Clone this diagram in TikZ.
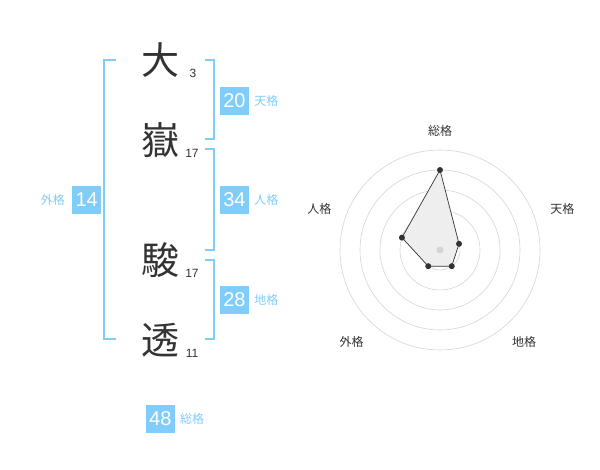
\documentclass[tikz,border=0pt]{standalone}
\usepackage{fontspec}
\setmainfont{Liberation Sans}
\newfontfamily\jpfont{Noto Sans CJK JP}
\usetikzlibrary{positioning}
\definecolor{kakublue}{RGB}{128,204,250}
\definecolor{inkgray}{RGB}{51,51,51}
\definecolor{gridgray}{RGB}{212,212,212}
\definecolor{areagray}{RGB}{238,238,238}
\tikzset{
  moji/.style={font=\jpfont\fontsize{38}{38}\selectfont,text=inkgray,inner sep=0pt},
  kakusu/.style={font=\fontsize{12}{12}\selectfont,text=inkgray,inner sep=0pt},
  kakubox/.style={rectangle,fill=kakublue,text=white,minimum width=29pt,minimum height=28pt,inner sep=0pt,font=\fontsize{20}{20}\selectfont},
  kakuname/.style={font=\jpfont\fontsize{12}{12}\selectfont,text=kakublue,inner sep=0pt},
  bracket/.style={draw=kakublue,line width=2pt},
  axisname/.style={font=\jpfont\fontsize{12}{12}\selectfont,text=inkgray,inner sep=0pt},
  ring/.style={draw=gridgray,line width=0.6pt},
  valdot/.style={circle,fill=inkgray,inner sep=0pt,minimum size=6pt}
}
\begin{document}
\begin{tikzpicture}[x=1pt,y=-1pt]
  \useasboundingbox (0,0) rectangle (600,470);
  % name
  \node[moji] (moji1) at (160,60) {大};
  \node[moji] (moji2) at (160,140) {嶽};
  \node[moji] (moji3) at (160,260) {駿};
  \node[moji] (moji4) at (160,340) {透};
  \node[kakusu] (su1) at (193,73) {3};
  \node[kakusu] (su2) at (192,153) {17};
  \node[kakusu] (su3) at (192,273) {17};
  \node[kakusu] (su4) at (192,353) {11};
  % brackets
  \draw[bracket] (116,60) -| (104,339) -- (116,339);
  \draw[bracket] (205,60) -| (214,139) -- (205,139);
  \draw[bracket] (205,149) -| (214,250) -- (205,250);
  \draw[bracket] (205,260) -| (214,339) -- (205,339);
  % scores
  \node[kakubox] (tenkaku) at (234.5,101) {20};
  \node[kakuname,right=5pt of tenkaku] (tenname) {天格};
  \node[kakubox] (jinkaku) at (234.5,200) {34};
  \node[kakuname,right=5pt of jinkaku] (jinname) {人格};
  \node[kakubox] (chikaku) at (234.5,300) {28};
  \node[kakuname,right=5pt of chikaku] (chiname) {地格};
  \node[kakubox] (gaikaku) at (86.7,200) {14};
  \node[kakuname,left=7pt of gaikaku] (gainame) {外格};
  \node[kakubox] (soukaku) at (160.3,419) {48};
  \node[kakuname,right=5pt of soukaku] (souname) {総格};
  % radar
  \begin{scope}[shift={(440,250)},x=1pt,y=1pt]
    \foreach \r in {20,40,...,100}
      \draw[ring] (0,0) circle[radius=\r pt];
    \coordinate (p-sou) at (90:80);
    \coordinate (p-ten) at (18:20);
    \coordinate (p-chi) at (-54:20);
    \coordinate (p-gai) at (-126:20);
    \coordinate (p-jin) at (162:40);
    \draw[fill=areagray,draw=inkgray,line width=0.7pt] (p-sou) -- (p-ten) -- (p-chi) -- (p-gai) -- (p-jin) -- cycle;
    \fill[gridgray] (0,0) circle[radius=3.5pt];
    \foreach \p in {sou,ten,chi,gai,jin}
      \node[valdot] (d-\p) at (p-\p) {};
    \node[axisname] (a-sou) at (0,119.3) {総格};
    \node[axisname] (a-ten) at (122.3,41.3) {天格};
    \node[axisname] (a-chi) at (84,-92.3) {地格};
    \node[axisname] (a-gai) at (-88.3,-92.3) {外格};
    \node[axisname] (a-jin) at (-120.7,41.3) {人格};
  \end{scope}
\end{tikzpicture}
\end{document}
